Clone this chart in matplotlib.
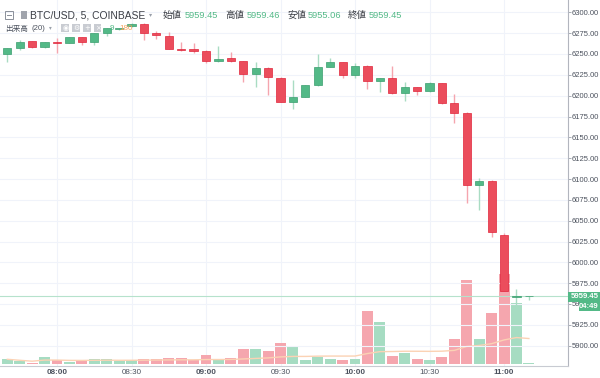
import matplotlib
matplotlib.use("Agg")
import matplotlib.pyplot as plt
import numpy as np
import pandas as pd
from matplotlib.patches import Rectangle

plt.rcParams['font.family'] = ['Liberation Sans', 'Noto Sans CJK JP', 'DejaVu Sans']
CJK = ['Noto Sans CJK JP', 'DejaVu Sans']
LAT = ['Liberation Sans', 'DejaVu Sans']

# ---- data (5-minute candles, 07:40 .. 11:10) ----
times = pd.date_range("2018-06-10 07:40", periods=43, freq="5min")
opens = [6250, 6257, 6265, 6258, 6264.5, 6263.5, 6270, 6264, 6275, 6279.5,
         6283.5, 6286, 6275, 6272, 6256.5, 6255.6, 6254, 6241.6, 6245, 6241.6,
         6226, 6233.5, 6221.6, 6192.7, 6198.7, 6212.8, 6234.7, 6240, 6224.8, 6236,
         6218, 6220.8, 6202.8, 6210.7, 6205.6, 6214.7, 6190.8, 6179.6, 6092.8, 6098,
         6033, 5958, 5959.45]
highs = [6257, 6267, 6266, 6265, 6269, 6270.5, 6270.5, 6275, 6281, 6281.5,
         6287, 6287, 6278, 6276, 6264, 6262.8, 6255, 6259.6, 6252.7, 6242,
         6240, 6234, 6222, 6218.8, 6213, 6250, 6244.8, 6240.5, 6238.8, 6236.5,
         6221, 6235.6, 6216.8, 6211, 6216, 6215, 6201.6, 6180, 6100.8, 6098.5,
         6035, 5968, 5959.46]
lows = [6240, 6255, 6257, 6257, 6251, 6263, 6261, 6261, 6272, 6279,
        6282, 6267, 6268, 6256, 6254, 6250.8, 6238.8, 6241, 6241, 6216.8,
        6210.8, 6200.8, 6192, 6183.6, 6198, 6212, 6234, 6220.8, 6220.8, 6207.6,
        6204.7, 6202.5, 6194, 6200.8, 6205, 6190.5, 6167.5, 6071.6, 6062.8, 6030,
        5965, 5947.6, 5955.06]
closes = [6257, 6265, 6258, 6264.5, 6263.5, 6270, 6264, 6275, 6281, 6281,
          6285.5, 6275, 6272.5, 6256.5, 6254.8, 6254, 6241.6, 6244.4, 6241.6, 6226.3,
          6233.5, 6222, 6192.7, 6198.7, 6212.8, 6234.7, 6240, 6224.8, 6236, 6218,
          6220.8, 6202.8, 6210.7, 6206, 6214.7, 6190.8, 6179.6, 6092.8, 6098, 6036,
          5965.6, 5959.6, 5959.45]
volumes = [33, 19, 7, 51, 28, 14, 23, 33, 33, 19,
           28, 35, 37, 40, 40, 28, 61, 33, 42, 103,
           107, 91, 145, 121, 28, 51, 37, 30, 37, 371,
           292, 54, 75, 37, 28, 51, 173, 588, 175, 355,
           630, 425, 9]
price_ticks = [5900 + 25 * k for k in range(17)]
time_labels = ["08:00", "08:30", "09:00", "09:30", "10:00", "10:30", "11:00"]
last_price = 5959.45
countdown = "04:49"

UP = "#53b987"
DOWN = "#eb4d5c"
UP_EDGE = "#3a9e6e"
DOWN_EDGE = "#e0243a"
UP_WICK = "#a9dcc3"
DOWN_WICK = "#f5a5ae"
UP_VOL = "#a6dcc2"
DOWN_VOL = "#f5a6ae"
GRID = "#f0f3fa"

fig = plt.figure(figsize=(6.0, 3.78), dpi=100)
rect = [0.0, 12 / 378, 568 / 600, 366 / 378]
axv = fig.add_axes(rect)
ax = fig.add_axes(rect, sharex=axv)
ax.patch.set_alpha(0)

n = len(opens)
x = np.arange(n)
up = [c >= o for o, c in zip(opens, closes)]

# volume
vcol = [UP_VOL if u else DOWN_VOL for u in up]
axv.bar(x, volumes, width=0.88, color=vcol, zorder=2)
ma = pd.Series(volumes).rolling(20, min_periods=1).mean()
axv.plot(x, ma, color="#fbd2b4", lw=1.0, zorder=3)
axv.set_ylim(-14, 2548)
axv.set_yticks([])
for s in axv.spines.values():
    s.set_visible(False)
axv.tick_params(axis="x", length=0, labelbottom=False)

xt = [4, 10, 16, 22, 28, 34, 40]
for xx in xt:
    axv.axvline(xx, color=GRID, lw=0.8, zorder=0)

# candles
ax.set_ylim(5875.6, 6314.8)
ax.set_xlim(-0.59, 45.15)
for yy in price_ticks:
    ax.axhline(yy, color=GRID, lw=0.8, zorder=0)
for i in range(n):
    o, h, l, c = opens[i], highs[i], lows[i], closes[i]
    wc = UP_WICK if up[i] else DOWN_WICK
    ax.vlines(i, l, h, color=wc, lw=1.0, zorder=3)
    body_lo = min(o, c)
    body_h = max(abs(c - o), 0.6)
    fc = UP if up[i] else DOWN
    ec = UP_EDGE if up[i] else DOWN_EDGE
    ax.add_patch(Rectangle((i - 0.33, body_lo), 0.66, body_h, facecolor=fc,
                           edgecolor=ec, lw=0.5, zorder=4))

ax.axhline(last_price, color="#b6e2cc", lw=0.8, zorder=2)

# axes styling
ax.yaxis.tick_right()
ax.set_yticks(price_ticks)
ax.set_yticklabels([f"{p:.2f}" for p in price_ticks])
ax.tick_params(axis="y", length=2, width=0.6, color="#9aa0aa", labelsize=5.5,
               labelcolor="#4c525e", pad=0.8)
ax.set_xticks(xt)
ax.set_xticklabels(time_labels)
ax.tick_params(axis="x", length=0, labelsize=5.8, labelcolor="#4c525e", pad=2.0)
for lab in ax.get_xticklabels():
    if lab.get_text().endswith(":00"):
        lab.set_fontweight("bold")
for side in ["top", "left"]:
    ax.spines[side].set_visible(False)
ax.spines["right"].set_color("#b2b5be")
ax.spines["bottom"].set_color("#c8cbd2")
ax.spines["right"].set_linewidth(0.8)
ax.spines["bottom"].set_linewidth(0.8)

# last price label on the axis
fig.patches.append(Rectangle((568 / 600, 1 - 301.5 / 378), 32 / 600, 10 / 378,
                             transform=fig.transFigure, fc=UP, ec="none", zorder=9))
fig.text(598.5 / 600, 1 - 296.5 / 378, f"{last_price:.2f}", ha="right", va="center",
         fontsize=5.6, color="white", fontweight="bold", zorder=10)
fig.patches.append(Rectangle((578.5 / 600, 1 - 310.5 / 378), 21.5 / 600, 9 / 378,
                             transform=fig.transFigure, fc=UP, ec="none", zorder=9))
fig.text(598.5 / 600, 1 - 306 / 378, countdown, ha="right", va="center", fontsize=5.6,
         color="white", fontweight="bold", zorder=10)

# header
def ft(xp, yp, s, **kw):
    fig.text(xp / 600, 1 - yp / 378, s, va="center", **kw)

fig.patches.append(Rectangle((5 / 600, 1 - 19 / 378), 8 / 600, 8 / 378,
                             transform=fig.transFigure, fc="none", ec="#8a8f99", lw=0.7))
fig.lines.append(plt.Line2D([7 / 600, 11 / 600], [1 - 15 / 378, 1 - 15 / 378],
                            transform=fig.transFigure, color="#8a8f99", lw=0.7))
fig.patches.append(Rectangle((21 / 600, 1 - 19 / 378), 6 / 600, 8 / 378,
                             transform=fig.transFigure, fc="#a0a4ac", ec="none"))
ft(30, 15, "BTC/USD, 5, COINBASE", fontsize=7.4, color="#3c3f46", family=LAT)
ft(149, 15, "▾", fontsize=4.5, color="#9aa0aa", family=["DejaVu Sans"])
hdr = [("始値", 163, "5959.45", 185), ("高値", 225, "5959.46", 247),
       ("安値", 287, "5955.06", 308), ("終値", 348, "5959.45", 369)]
for lab, lx, val, vx in hdr:
    ft(lx, 15.5, lab, fontsize=6.8, color="#3c3f46", family=CJK)
    ft(vx, 15, val, fontsize=6.7, color=UP, family=LAT)

ft(5, 28.5, "出来高", fontsize=5.5, color="#4c525e", family=CJK)
ft(31, 28, "(20)", fontsize=5.6, color="#4c525e", family=LAT)
ft(49, 28, "▾", fontsize=4, color="#9aa0aa", family=["DejaVu Sans"])
for k, sym in enumerate(["◉", "⚙", "+", "×"]):
    x0 = 61.5 + k * 10.8
    fig.patches.append(Rectangle((x0 / 600, 1 - 32 / 378), 7.5 / 600, 8 / 378,
                                 transform=fig.transFigure, fc="#c9ccd2", ec="none"))
    ft(x0 + 3.75, 28, sym, fontsize=5, color="white", ha="center", family=["DejaVu Sans"])
ft(110, 28, "9", fontsize=5.8, color=UP, family=LAT)
ft(119, 28, "180", fontsize=5.8, color="#f7a35c", family=LAT)

fig.savefig("out.png", dpi=100)
